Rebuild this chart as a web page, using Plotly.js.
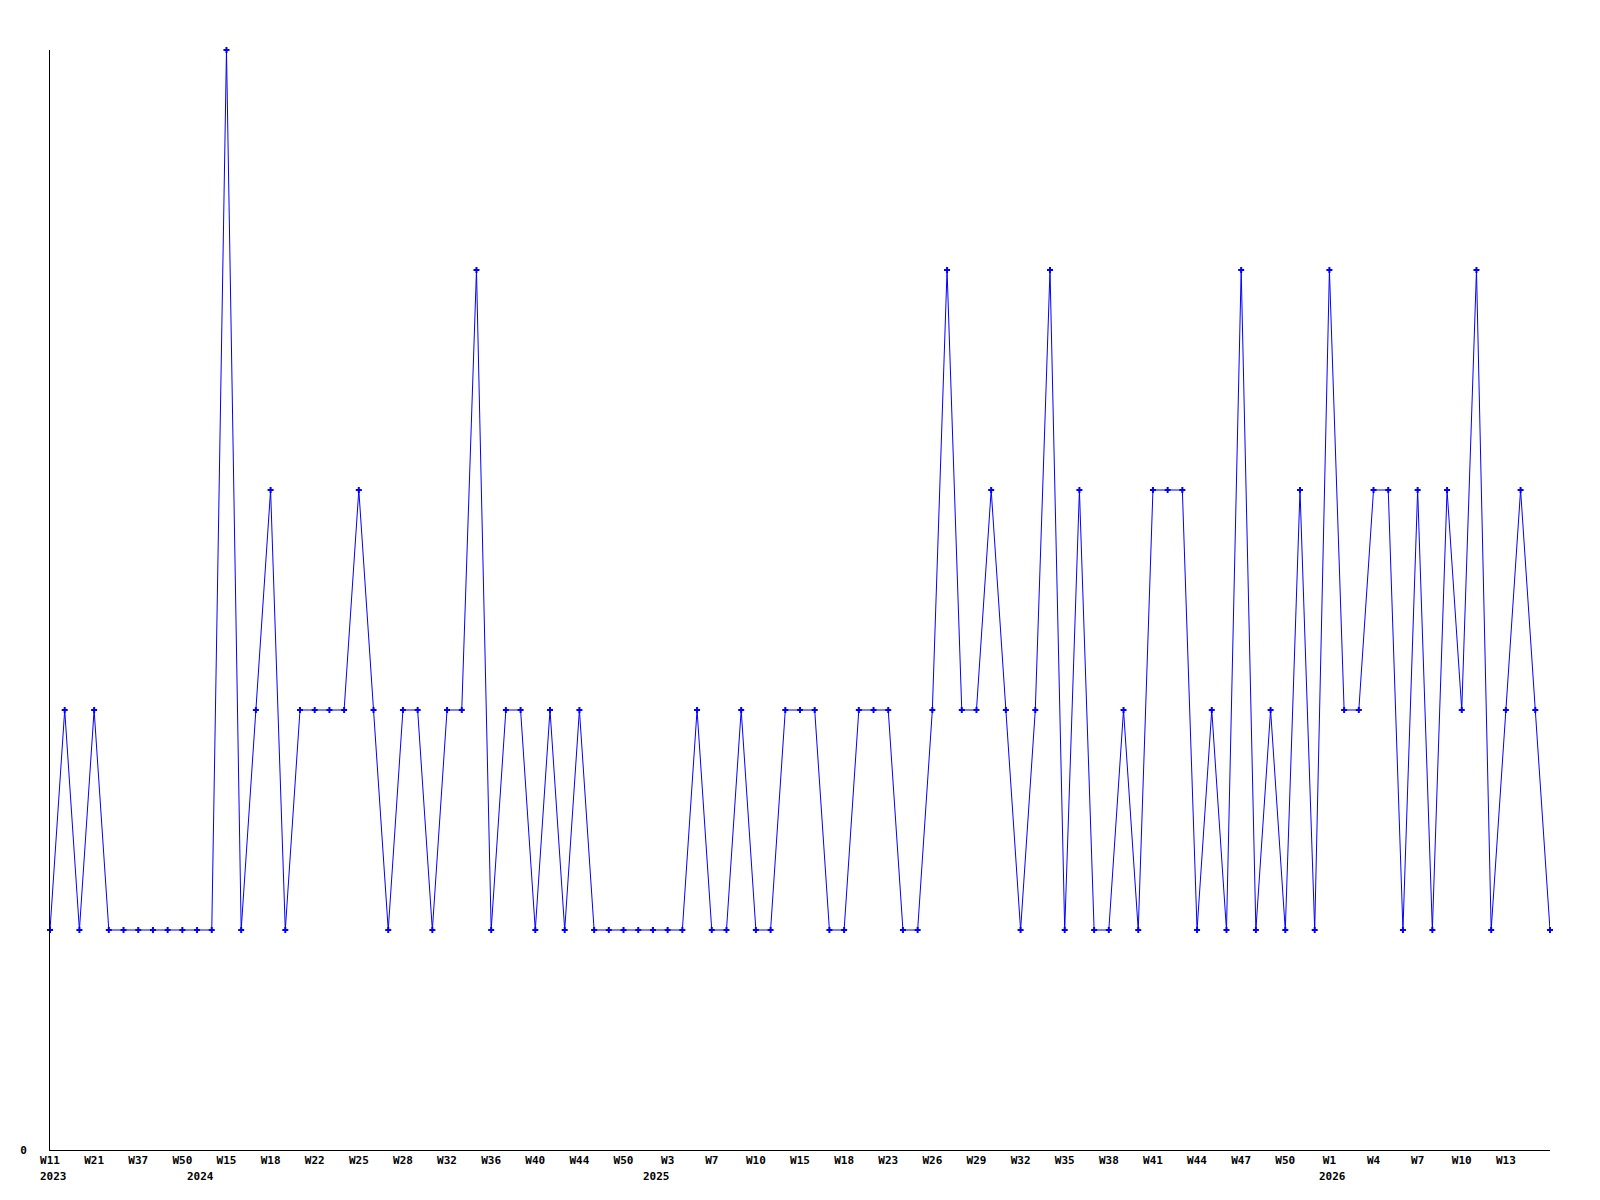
<!DOCTYPE html>
<html>
<head>
<meta charset="utf-8">
<script src="https://cdn.plot.ly/plotly-3.0.1.min.js"></script>
<style>html,body{margin:0;padding:0;background:#fff;}#chart{width:1600px;height:1200px;}</style>
</head>
<body>
<div id="chart"></div>
<script>
// weekly values, one per point, in order
const values = [
  1, 2, 1, 2, 1, 1, 1, 1, 1, 1, 1, 1,
  5, 1, 2, 3, 1, 2, 2, 2, 2, 3, 2, 1, 2, 2, 1, 2, 2, 4, 1, 2, 2, 1, 2, 1, 2,
  1, 1, 1, 1, 1, 1, 1,
  2, 1, 1, 2, 1, 1, 2, 2, 2, 1, 1, 2, 2, 2, 1, 1,
  2, 4, 2, 2, 3, 2, 1, 2, 4, 1, 3, 1, 1, 2, 1, 3, 3, 3,
  1, 2, 1, 4, 1, 2, 1, 3, 1, 4, 2, 2, 3, 3, 1, 3, 1, 3, 2, 4, 1, 2, 3, 2, 1
];
// week tick labels shown under every third point
const tickLabels = [
  "W11", "W21", "W37", "W50", "W15", "W18", "W22", "W25", "W28",
  "W32", "W36", "W40", "W44", "W50", "W3", "W7", "W10", "W15", "W18",
  "W23", "W26", "W29", "W32", "W35", "W38", "W41", "W44", "W47", "W50",
  "W1", "W4", "W7", "W10", "W13"
];
const tickEvery = 3;
// year labels and the index of the first point of each year
const yearLabels = ["2023", "2024", "2025", "2026"];
const yearStartIndex = [0, 10, 41, 87];

const xs = values.map((v, i) => i);
const tickVals = tickLabels.map((t, k) => k * tickEvery);

const trace = {
  x: xs,
  y: values,
  type: 'scatter',
  mode: 'lines+markers',
  line: {color: '#0000ff', width: 1},
  marker: {color: '#0000ff', symbol: 'cross', size: 5},
  cliponaxis: false,
  hoverinfo: 'none'
};

const font = {family: '"DejaVu Sans Mono", monospace', size: 11, color: '#000', weight: 'bold'};

const annotations = yearLabels.map((yr, k) => ({
  x: yearStartIndex[k],
  xref: 'x',
  y: 0,
  yref: 'paper',
  text: yr,
  showarrow: false,
  xanchor: 'left',
  yanchor: 'middle',
  xshift: -12,
  yshift: -26,
  font: font
}));

const layout = {
  width: 1600,
  height: 1200,
  margin: {l: 50, r: 50, t: 50, b: 50, pad: 0},
  paper_bgcolor: '#ffffff',
  plot_bgcolor: '#ffffff',
  showlegend: false,
  annotations: annotations,
  xaxis: {
    range: [0, values.length - 1],
    tickmode: 'array',
    tickvals: tickVals,
    ticktext: tickLabels,
    tickfont: font,
    showgrid: false,
    zeroline: false,
    showline: true,
    linecolor: '#000',
    linewidth: 1,
    ticks: '',
    tickangle: 0,
    fixedrange: true
  },
  yaxis: {
    range: [0, 5],
    tickmode: 'array',
    tickvals: [0],
    ticktext: ['0'],
    tickfont: font,
    showgrid: false,
    zeroline: false,
    showline: true,
    linecolor: '#000',
    linewidth: 1,
    ticks: 'outside',
    ticklen: 20,
    tickcolor: 'rgba(0,0,0,0)',
    fixedrange: true
  }
};

Plotly.newPlot('chart', [trace], layout, {displayModeBar: false, staticPlot: true});
</script>
</body>
</html>
